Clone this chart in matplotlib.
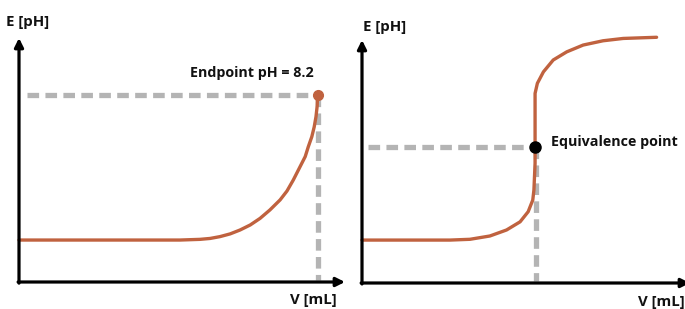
import matplotlib.pyplot as plt
import numpy as np

plt.rcParams['font.family'] = ['Open Sans', 'DejaVu Sans']

# left panel: titration to an endpoint indicator
left_v = [0, 2, 4, 5.38, 6.05, 6.39, 6.72, 7.06, 7.39, 7.73, 8.06, 8.39, 8.73, 8.96, 9.17,
          9.36, 9.57, 9.67, 9.79, 9.87, 9.93, 9.97, 9.98, 10.0]
left_ph = [1.84, 1.84, 1.84, 1.84, 1.87, 1.91, 1.99, 2.11, 2.28, 2.5, 2.79, 3.16, 3.6, 3.99, 4.47,
           4.96, 5.5, 5.92, 6.37, 6.8, 7.25, 7.72, 8.13, 8.2]
endpoint_v = 10.0
endpoint_ph = 8.2

# right panel: potentiometric titration with equivalence point
right_v = [0, 2, 3.06, 3.75, 4.44, 5.02, 5.49, 5.77, 5.93, 5.97, 6.01, 6.01, 6.01, 6.01,
           6.09, 6.30, 6.64, 7.11, 7.68, 8.37, 9.07, 10.23]
right_ph = [2.21, 2.21, 2.21, 2.25, 2.42, 2.73, 3.15, 3.67, 4.27, 4.79, 6.16, 7.01, 8.73, 9.76,
            10.28, 10.87, 11.48, 11.90, 12.25, 12.47, 12.59, 12.65]
equiv_v = 6.01
equiv_ph = 7.0

curve_col = '#c0623f'
dash_col = '#b4b4b4'

fig = plt.figure(figsize=(6.85, 3.09), dpi=100)
W, H = 685, 309


def panel(x0, y0, x1, y1, xmax, ymax):
    ax = fig.add_axes([x0 / W, (H - y0) / H, (x1 - x0) / W, (y0 - y1) / H])
    ax.set_xlim(0, xmax)
    ax.set_ylim(0, ymax)
    ax.set_axis_off()
    arrow = dict(arrowstyle='-|>', lw=2.3, color='black', mutation_scale=13, shrinkA=0, shrinkB=0)
    ax.annotate('', xy=(xmax, 0), xytext=(-0.03, 0), arrowprops=arrow, annotation_clip=False)
    ax.annotate('', xy=(0, ymax), xytext=(0, -0.05), arrowprops=arrow, annotation_clip=False)
    return ax


txt = dict(fontsize=10.3, fontweight='bold', color='#111111')
lab = dict(fontsize=10.8, fontweight='bold', color='#111111')
dash = dict(color=dash_col, lw=3.8, dashes=(2.2, 1.2), solid_capstyle='butt')

# left
ax1 = panel(19, 282, 345, 38, 10.9, 10.7)
ax1.plot([0.27, endpoint_v], [endpoint_ph, endpoint_ph], **dash)
ax1.plot([endpoint_v, endpoint_v], [endpoint_ph, 0.1], **dash)
ax1.plot(left_v, left_ph, color=curve_col, lw=2.4, solid_capstyle='round',
         solid_joinstyle='round', clip_on=False)
ax1.plot([endpoint_v], [endpoint_ph], 'o', color=curve_col, ms=7, clip_on=False)
ax1.text(0.3, 11.4, 'E [pH]', ha='center', va='center', **lab)
ax1.text(9.83, -0.8, 'V [mL]', ha='center', va='center', **lab)
ax1.text(7.79, 9.17, 'Endpoint pH = 8.2', ha='center', va='center', **txt)

# right
ax2 = panel(362, 283, 690, 40, 11.39, 12.51)
ax2.plot([0.21, equiv_v], [equiv_ph, equiv_ph], **dash)
ax2.plot([equiv_v + 0.03, equiv_v + 0.03], [equiv_ph, 0.1], **dash)
ax2.plot(right_v, right_ph, color=curve_col, lw=2.4, solid_capstyle='round',
         solid_joinstyle='round', clip_on=False)
ax2.plot([equiv_v], [equiv_ph], 'o', color='black', ms=8, clip_on=False)
ax2.text(0.8, 13.18, 'E [pH]', ha='center', va='center', **lab)
ax2.text(10.38, -0.98, 'V [mL]', ha='center', va='center', **lab)
ax2.text(6.56, 7.27, 'Equivalence point', ha='left', va='center', **txt)

fig.savefig('out.png', dpi=100)
